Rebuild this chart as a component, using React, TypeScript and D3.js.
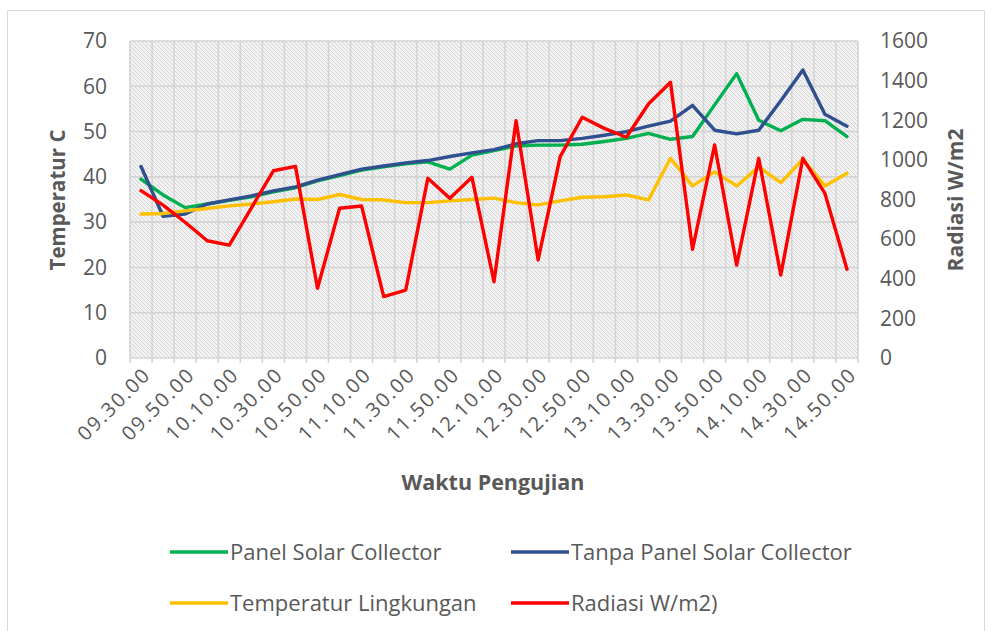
import React from "react";
import * as d3 from "d3";

const categories = [
  "09.30.00","09.40.00","09.50.00","10.00.00","10.10.00","10.20.00","10.30.00","10.40.00",
  "10.50.00","11.00.00","11.10.00","11.20.00","11.30.00","11.40.00","11.50.00","12.00.00",
  "12.10.00","12.20.00","12.30.00","12.40.00","12.50.00","13.00.00","13.10.00","13.20.00",
  "13.30.00","13.40.00","13.50.00","14.00.00","14.10.00","14.20.00","14.30.00","14.40.00","14.50.00",
];

const panelSolar = [39.5, 36, 33.2, 34, 34.8, 35.6, 36.7, 37.6, 39.1, 40.3, 41.5, 42.2, 42.9, 43.3, 41.7, 44.8, 45.8, 46.8, 47.0, 47.0, 47.2, 47.8, 48.5, 49.6, 48.3, 48.9, 55.9, 62.8, 52.5, 50.2, 52.7, 52.4, 48.9];
const tanpaPanel = [42.3, 31.3, 31.8, 34, 34.9, 35.8, 36.9, 37.8, 39.3, 40.5, 41.7, 42.4, 43.1, 43.6, 44.5, 45.3, 46.0, 47.3, 48.0, 48.0, 48.5, 49.2, 50.0, 51.2, 52.3, 55.8, 50.3, 49.5, 50.3, 56.8, 63.6, 53.8, 51.2];
const lingkungan = [31.8, 31.9, 32.5, 33.0, 33.6, 34.0, 34.5, 35.1, 35.0, 36.1, 35.0, 34.9, 34.3, 34.3, 34.7, 35.0, 35.3, 34.3, 33.8, 34.7, 35.5, 35.6, 36.0, 34.9, 44.1, 38.0, 41.1, 38.0, 42.2, 38.7, 43.9, 38.0, 40.8];
const radiasi = [845, 772, 685, 592, 570, 757, 945, 967, 352, 756, 767, 310, 343, 907, 806, 912, 385, 1198, 495, 1016, 1215, 1159, 1114, 1282, 1392, 549, 1075, 469, 1008, 419, 1008, 831, 448];

const leftTicks = [0, 10, 20, 30, 40, 50, 60, 70];
const rightTicks = [0, 200, 400, 600, 800, 1000, 1200, 1400, 1600];

const seriesNames = ["Panel Solar Collector", "Tanpa Panel Solar Collector", "Temperatur Lingkungan", "Radiasi W/m2)"];

export default function App() {
  const W = 991, H = 631;
  const left = 130, right = 858, top = 41, bottom = 358;
  const font = "'Open Sans', 'Noto Sans', sans-serif";
  const textColor = "#595959";

  const x = d3.scaleBand<string>().domain(categories).range([left, right]);
  const cx = (c: string) => (x(c) as number) + x.bandwidth() / 2;
  const yL = d3.scaleLinear().domain([0, 70]).range([bottom, top]);
  const yR = d3.scaleLinear().domain([0, 1600]).range([bottom, top]);

  const lineL = d3.line<number>().x((_, i) => cx(categories[i])).y((d) => yL(d));
  const lineR = d3.line<number>().x((_, i) => cx(categories[i])).y((d) => yR(d));

  const boundaries = categories.map((c) => x(c) as number).concat([right]);

  const series = [
    { name: seriesNames[0], color: "#00b050", d: lineL(panelSolar) },
    { name: seriesNames[1], color: "#2f4f8f", d: lineL(tanpaPanel) },
    { name: seriesNames[2], color: "#ffc000", d: lineL(lingkungan) },
    { name: seriesNames[3], color: "#ff0000", d: lineR(radiasi) },
  ];

  const legendPos = [
    { lx: 170, ly: 552 },
    { lx: 511, ly: 552 },
    { lx: 170, ly: 603 },
    { lx: 511, ly: 603 },
  ];

  return (
    <svg width={W} height={H} style={{ position: "absolute", left: 0, top: 0, background: "#fff" }} fontFamily={font}>
      <defs>
        <pattern id="hatch" width="4" height="4" patternUnits="userSpaceOnUse">
          <rect width="4" height="4" fill="#f2f2f2" />
          <path d="M-1,-1 L5,5 M-1,3 L1,5 M3,-1 L5,1" stroke="#d3d3d3" strokeWidth="0.9" />
        </pattern>
      </defs>
      <rect x={7.5} y={10.5} width={977} height={640} fill="#fff" stroke="#d9d9d9" strokeWidth={1} />

      <rect x={left} y={top} width={right - left} height={bottom - top} fill="url(#hatch)" />
      {leftTicks.map((t) => (
        <line key={"h" + t} x1={left} x2={right} y1={yL(t)} y2={yL(t)} stroke="#d4d4d4" strokeWidth={1.6} />
      ))}
      {boundaries.map((b, i) => (
        <line key={"v" + i} x1={b} x2={b} y1={top} y2={bottom + 5} stroke="#d4d4d4" strokeWidth={1.6} />
      ))}

      {leftTicks.map((t) => (
        <text key={"lt" + t} x={107} y={yL(t)} dy="0.35em" textAnchor="end" fontSize={21} fill={textColor}>{t}</text>
      ))}
      {rightTicks.map((t) => (
        <text key={"rt" + t} x={880} y={yR(t)} dy="0.35em" textAnchor="start" fontSize={21} fill={textColor}>{t}</text>
      ))}

      {categories.map((c, i) =>
        i % 2 === 0 ? (
          <text key={"xl" + c} transform={`translate(${cx(c) + 6},${371}) rotate(-45)`} textAnchor="end" dy="0.35em" fontSize={20} letterSpacing={1.8} fill={textColor}>{c}</text>
        ) : null
      )}

      <text transform={`translate(65,200) rotate(-90)`} textAnchor="middle" fontSize={20.5} fontWeight="bold" fill={textColor}>Temperatur C</text>
      <text transform={`translate(963,200) rotate(-90)`} textAnchor="middle" fontSize={21} fontWeight="bold" fill={textColor}>Radiasi W/m2</text>
      <text x={493} y={490} textAnchor="middle" fontSize={21.5} fontWeight="bold" fill={textColor}>Waktu Pengujian</text>

      {series.map((s) => (
        <path key={s.name} d={s.d || ""} fill="none" stroke={s.color} strokeWidth={3.4} strokeLinejoin="round" strokeLinecap="round" />
      ))}

      {series.map((s, i) => (
        <g key={"lg" + s.name}>
          <line x1={legendPos[i].lx} x2={legendPos[i].lx + 58} y1={legendPos[i].ly} y2={legendPos[i].ly} stroke={s.color} strokeWidth={3.4} />
          <text x={legendPos[i].lx + 60} y={legendPos[i].ly} dy="0.35em" fontSize={22} fill={textColor}>{s.name}</text>
        </g>
      ))}
    </svg>
  );
}
